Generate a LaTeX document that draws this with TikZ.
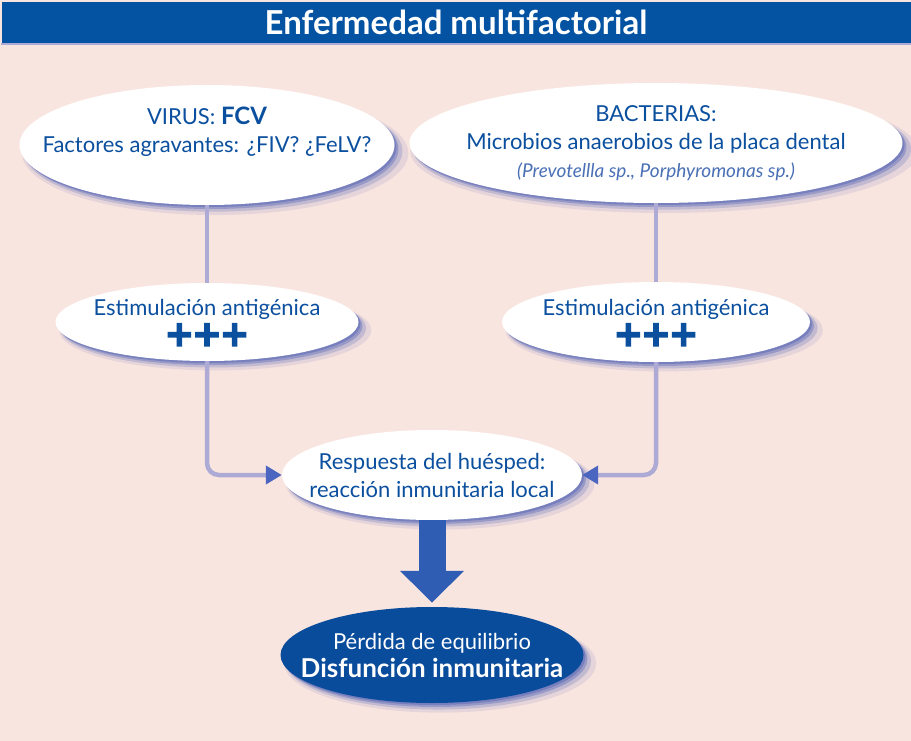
\documentclass[tikz,border=0pt]{standalone}
\usepackage{fontspec}
\setmainfont{Lato}
\newfontfamily\titlefont{Lato}
\newfontfamily\plusfont{DejaVu Sans}[FakeBold=9]
\usepackage{tikz}
\usetikzlibrary{shapes.geometric}
\usetikzlibrary{arrows.meta, shadows, positioning}
\definecolor{barblue}{HTML}{0453A2}
\definecolor{bgpink}{HTML}{F9E5DF}
\definecolor{txtblue}{HTML}{0B4F9F}
\definecolor{txtlight}{HTML}{4A70B6}
\definecolor{linkcol}{HTML}{ADAAD5}
\definecolor{tipcol}{HTML}{4B66C0}
\definecolor{shadowblue}{HTML}{3A4FAE}
\definecolor{darkfill}{HTML}{0A4C9C}
\definecolor{fatcol}{HTML}{2E5DB3}

\begin{document}
\begin{tikzpicture}[
			x=1pt, y=-1pt,
			bubble/.style={
					ellipse,
					fill=white,
					inner xsep=-150pt, % the minimum size sets the ellipse
					inner ysep=-40pt,
					text=txtblue,
					align=center,
					font=\fontsize{22}{28}\selectfont,
					general shadow={shadow xshift=8pt, shadow yshift=-8pt, shadow scale=1.03, fill=shadowblue, opacity=.1},
					general shadow={shadow xshift=6pt, shadow yshift=-6pt, shadow scale=1.01, fill=shadowblue, opacity=.2},
					general shadow={shadow xshift=4pt, shadow yshift=-4pt, fill=shadowblue, opacity=.3},
					general shadow={shadow xshift=2pt, shadow yshift=-2pt, fill=shadowblue, opacity=.35}
				},
			link/.style={draw=linkcol, line width=4.5pt, rounded corners=12pt},
			tip/.style={-{Triangle[length=16pt, width=18pt, color=tipcol]}},
			pluses/.style={font=\plusfont\fontsize{33}{33}\selectfont}
		]
		\useasboundingbox (0,0) rectangle (911,741);
		\fill[bgpink] (0,0) rectangle (911,741);

		\node[fill=barblue, minimum width=909pt, minimum height=41pt, inner sep=0pt,
			text=white, font=\titlefont\bfseries\fontsize{33}{33}\selectfont] (title) at (456,22.5) {Enfermedad multifactorial};
		\draw[linkcol, line width=2pt] ([yshift=-1pt]title.south west) -- ([yshift=-1pt]title.south east);

		\node[bubble, minimum width=375pt, minimum height=120pt, text depth=30pt] (virus) at (207,145)
		{VIRUS: {\fontsize{24}{28}\selectfont\bfseries FCV}\\Factores agravantes: ¿FIV? ¿FeLV?};
		\node[bubble, minimum width=493pt, minimum height=120pt] (bact) at (656,143)
		{BACTERIAS:\\Microbios anaerobios de la placa dental\\
			{\color{txtlight}\fontsize{19}{22}\selectfont\itshape (Prevotellla sp., Porphyromonas sp.)}};

		\node[bubble, minimum width=303pt, minimum height=78pt] (estL) at (207,322)
		{Estimulación antigénica\\[2pt]{\plusfont\fontsize{33}{33}\selectfont +++}};
		\node[bubble, minimum width=308pt, minimum height=80pt] (estR) at (656,322)
		{Estimulación antigénica\\[2pt]{\plusfont\fontsize{33}{33}\selectfont +++}};

		\node[bubble, minimum width=300pt, minimum height=90pt] (resp) at (432,475)
		{Respuesta del huésped:\\reacción inmunitaria local};

		\node[bubble, fill=darkfill, text=white, minimum width=303pt, minimum height=96pt] (perd) at (432,655)
		{Pérdida de equilibrio\\{\fontsize{26}{28}\selectfont\bfseries Disfunción inmunitaria}};

		% connectors
		\draw[link] (virus) -- (estL);
		\draw[link] (bact) -- (estR);
		\draw[link, tip] (estL) |- (resp);
		\draw[link, tip] (estR) |- (resp);
		\draw[fatcol, line width=27pt, -{Triangle[length=32pt, width=62pt]}] (resp) -- ([yshift=4pt]perd.north);
	\end{tikzpicture}
\end{document}
